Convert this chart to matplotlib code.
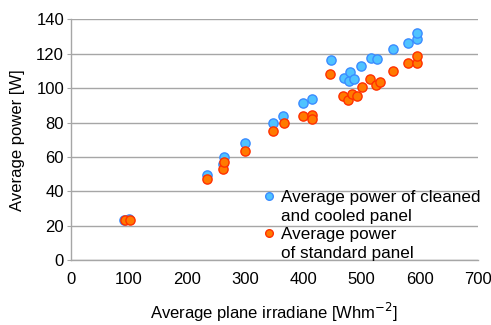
import matplotlib
matplotlib.use("Agg")
import matplotlib.pyplot as plt
from matplotlib.lines import Line2D

plt.rcParams["font.family"] = ["Liberation Sans", "DejaVu Sans"]
plt.rcParams["font.size"] = 12

# irradiance [Wh/m2] vs power [W], cleaned + cooled panel
cooled_x = [91, 100, 233.5, 261.6, 263.3, 300, 347, 365.5, 398.7, 415,
            447.5, 470, 478, 481, 487.6, 500, 516, 526.6, 554, 579.5, 595, 595]
cooled_y = [23.6, 24, 49.7, 55.9, 60.2, 67.9, 79.7, 83.9, 91.3, 93.8,
            116.1, 106, 104, 109, 105.2, 113, 117.2, 116.6, 122.8, 125.9, 128.2, 132]

# standard panel
std_x = [93, 102, 233.5, 261.6, 263.3, 300, 347, 366, 398.7, 415.3, 415.3,
         446.5, 468.7, 477.3, 484, 491.6, 501.4, 515, 524.4, 531, 555, 579.5, 595, 596]
std_y = [23.6, 23.6, 47.2, 53.2, 56.9, 63.5, 75.2, 79.9, 83.9, 84.3, 82.2,
         108.1, 95.5, 93, 96.3, 95.4, 100.7, 105, 101.9, 103.3, 110, 114.5, 114.3, 118.6]

x_ticks = [0, 100, 200, 300, 400, 500, 600, 700]
y_ticks = [0, 20, 40, 60, 80, 100, 120, 140]

BLUE, BLUE_EDGE = "#4fc3ff", "#3a8cff"
ORANGE, ORANGE_EDGE = "#ff7a00", "#ff3000"
GRID = "#a6a6a6"

fig = plt.figure(figsize=(4.91, 3.25), dpi=100)
ax = fig.add_axes([0.1446, 0.1985, 0.8283, 0.743])

ax.scatter(cooled_x, cooled_y, s=44, color=BLUE, edgecolors=BLUE_EDGE,
           linewidths=1.0, zorder=3, clip_on=False)
ax.scatter(std_x, std_y, s=44, color=ORANGE, edgecolors=ORANGE_EDGE,
           linewidths=1.0, zorder=4, clip_on=False)

ax.set_xlim(0, 700)
ax.set_ylim(0, 140)
ax.set_xticks(x_ticks)
ax.set_yticks(y_ticks)
ax.yaxis.grid(True, color=GRID, lw=1.0)
ax.set_axisbelow(True)
for side in ("top", "right"):
    ax.spines[side].set_visible(False)
for side in ("left", "bottom"):
    ax.spines[side].set_color(GRID)
    ax.spines[side].set_linewidth(1.0)
ax.tick_params(axis="y", length=3, color=GRID, pad=2, labelsize=12)
ax.tick_params(axis="x", length=0, pad=8, labelsize=12)

ax.set_xlabel("Average plane irradiane [Whm$^{-2}$]", fontsize=12, labelpad=10)
ax.set_ylabel("Average power [W]", fontsize=12, labelpad=8)

# two-line legend labels, marker sits next to the first line of each entry
blank = Line2D([], [], linestyle="none")
h_blue = Line2D([], [], marker="o", linestyle="none", markersize=5.5,
                markerfacecolor=BLUE, markeredgecolor=BLUE_EDGE, markeredgewidth=1.0)
h_orange = Line2D([], [], marker="o", linestyle="none", markersize=5.5,
                  markerfacecolor=ORANGE, markeredgecolor=ORANGE_EDGE, markeredgewidth=1.0)
ax.legend([h_blue, blank, h_orange, blank],
          ["Average power of cleaned", "and cooled panel",
           "Average power", "of standard panel"],
          loc="lower left", bbox_to_anchor=(0.44, -0.052), frameon=False,
          handlelength=0.8, handletextpad=0.3, labelspacing=0.22,
          borderpad=0.2, prop={"size": 12.3})

fig.savefig("out.png", dpi=100)
